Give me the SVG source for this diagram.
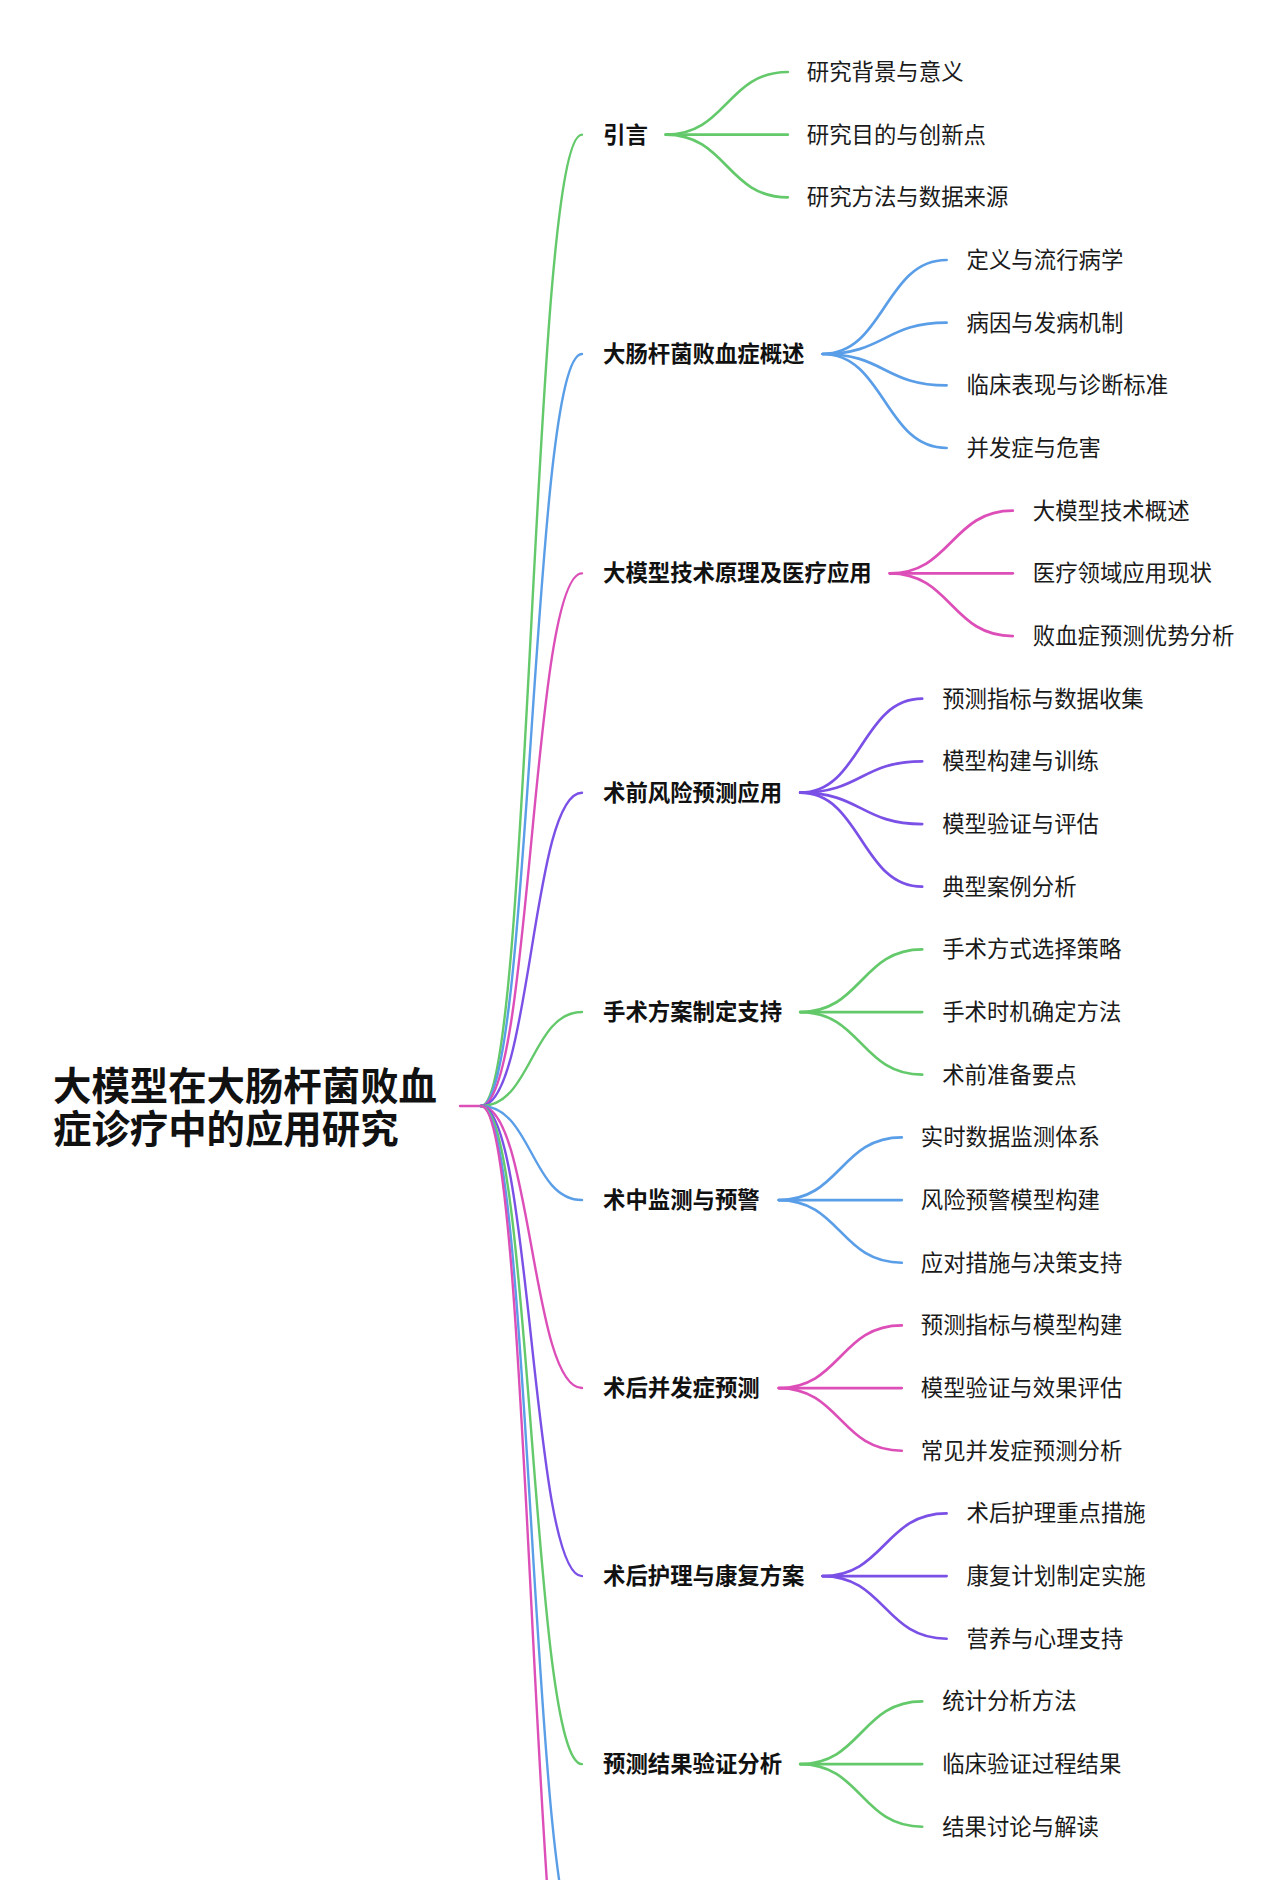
<svg xmlns="http://www.w3.org/2000/svg" width="1280" height="1880" viewBox="0 0 1280 1880">
<style>
  text { font-family: "Noto Sans CJK SC", "Noto Sans", sans-serif; fill: #1a1a1a; dominant-baseline: central; }
  .root { font-size: 38.4px; font-weight: bold; fill: #111; }
  .l1 { font-size: 22.4px; font-weight: bold; fill: #111; }
  .l2 { font-size: 22.4px; font-weight: normal; }
  path { fill: none; stroke-linecap: round; }
  .lk0 { stroke-width: 2.4; }
  .lk1 { stroke-width: 2.7; }
  .g { stroke: #63c96a; }
  .b { stroke: #5a9ee8; }
  .p { stroke: #dd4fb8; }
  .v { stroke: #7a50e6; }
</style>
<rect width="1280" height="1880" fill="#ffffff"/>

<g id="connectors">
  <path class="lk0 p" d="M460 1106 H481"/>
  <path class="lk0 g" d="M481 1106 C531.5 1106 531.5 134.67 582 134.67"/>
  <path class="lk0 b" d="M481 1106 C531.5 1106 531.5 354 582 354"/>
  <path class="lk0 p" d="M481 1106 C531.5 1106 531.5 573.36 582 573.36"/>
  <path class="lk0 v" d="M481 1106 C531.5 1106 531.5 792.7 582 792.7"/>
  <path class="lk0 g" d="M481 1106 C531.5 1106 531.5 1012.05 582 1012.05"/>
  <path class="lk0 b" d="M481 1106 C531.5 1106 531.5 1200.06 582 1200.06"/>
  <path class="lk0 p" d="M481 1106 C531.5 1106 531.5 1388.07 582 1388.07"/>
  <path class="lk0 v" d="M481 1106 C531.5 1106 531.5 1576.08 582 1576.08"/>
  <path class="lk0 g" d="M481 1106 C531.5 1106 531.5 1764.09 582 1764.09"/>
  <path class="lk0 b" d="M481 1106 C531.5 1106 531.5 1952.1 582 1952.1"/>
  <path class="lk0 p" d="M481 1106 C531.5 1106 531.5 2108.8 582 2108.8"/>

  <path class="lk1 g" d="M665.8 134.67 C726.8 134.67 726.8 72 787.8 72"/>
  <path class="lk1 g" d="M665.8 134.67 H787.8"/>
  <path class="lk1 g" d="M665.8 134.67 C726.8 134.67 726.8 197.34 787.8 197.34"/>

  <path class="lk1 b" d="M822.6 354 C884.6 354 884.6 260.01 946.6 260.01"/>
  <path class="lk1 b" d="M822.6 354 C884.6 354 884.6 322.68 946.6 322.68"/>
  <path class="lk1 b" d="M822.6 354 C884.6 354 884.6 385.35 946.6 385.35"/>
  <path class="lk1 b" d="M822.6 354 C884.6 354 884.6 448.02 946.6 448.02"/>

  <path class="lk1 p" d="M889.8 573.36 C951.3 573.36 951.3 510.69 1012.8 510.69"/>
  <path class="lk1 p" d="M889.8 573.36 H1012.8"/>
  <path class="lk1 p" d="M889.8 573.36 C951.3 573.36 951.3 636.03 1012.8 636.03"/>

  <path class="lk1 v" d="M800.2 792.7 C861.2 792.7 861.2 698.7 922.2 698.7"/>
  <path class="lk1 v" d="M800.2 792.7 C861.2 792.7 861.2 761.37 922.2 761.37"/>
  <path class="lk1 v" d="M800.2 792.7 C861.2 792.7 861.2 824.04 922.2 824.04"/>
  <path class="lk1 v" d="M800.2 792.7 C861.2 792.7 861.2 886.71 922.2 886.71"/>

  <path class="lk1 g" d="M800.2 1012.05 C861.2 1012.05 861.2 949.38 922.2 949.38"/>
  <path class="lk1 g" d="M800.2 1012.05 H922.2"/>
  <path class="lk1 g" d="M800.2 1012.05 C861.2 1012.05 861.2 1074.72 922.2 1074.72"/>

  <path class="lk1 b" d="M778.8 1200.06 C840.3 1200.06 840.3 1137.39 901.8 1137.39"/>
  <path class="lk1 b" d="M778.8 1200.06 H901.8"/>
  <path class="lk1 b" d="M778.8 1200.06 C840.3 1200.06 840.3 1262.73 901.8 1262.73"/>

  <path class="lk1 p" d="M778.8 1388.07 C840.3 1388.07 840.3 1325.4 901.8 1325.4"/>
  <path class="lk1 p" d="M778.8 1388.07 H901.8"/>
  <path class="lk1 p" d="M778.8 1388.07 C840.3 1388.07 840.3 1450.74 901.8 1450.74"/>

  <path class="lk1 v" d="M822.6 1576.08 C884.6 1576.08 884.6 1513.41 946.6 1513.41"/>
  <path class="lk1 v" d="M822.6 1576.08 H946.6"/>
  <path class="lk1 v" d="M822.6 1576.08 C884.6 1576.08 884.6 1638.75 946.6 1638.75"/>

  <path class="lk1 g" d="M800.2 1764.09 C861.2 1764.09 861.2 1701.42 922.2 1701.42"/>
  <path class="lk1 g" d="M800.2 1764.09 H922.2"/>
  <path class="lk1 g" d="M800.2 1764.09 C861.2 1764.09 861.2 1826.76 922.2 1826.76"/>
</g>

<g id="root">
  <text class="root" x="53" y="1083"><tspan x="53" y="1083">大模型在大肠杆菌败血</tspan><tspan x="53" y="1126">症诊疗中的应用研究</tspan></text>
</g>

<g id="n1" transform="translate(0,-2)">
  <text class="l1" x="603" y="134.67">引言</text>
  <text class="l2" x="806.8" y="72">研究背景与意义</text>
  <text class="l2" x="806.8" y="134.67">研究目的与创新点</text>
  <text class="l2" x="806.8" y="197.34">研究方法与数据来源</text>
</g>
<g id="n2" transform="translate(0,-2)">
  <text class="l1" x="603" y="354">大肠杆菌败血症概述</text>
  <text class="l2" x="966.6" y="260.01">定义与流行病学</text>
  <text class="l2" x="966.6" y="322.68">病因与发病机制</text>
  <text class="l2" x="966.6" y="385.35">临床表现与诊断标准</text>
  <text class="l2" x="966.6" y="448.02">并发症与危害</text>
</g>
<g id="n3" transform="translate(0,-2)">
  <text class="l1" x="603" y="573.36">大模型技术原理及医疗应用</text>
  <text class="l2" x="1032.8" y="510.69">大模型技术概述</text>
  <text class="l2" x="1032.8" y="573.36">医疗领域应用现状</text>
  <text class="l2" x="1032.8" y="636.03">败血症预测优势分析</text>
</g>
<g id="n4" transform="translate(0,-2)">
  <text class="l1" x="603" y="792.7">术前风险预测应用</text>
  <text class="l2" x="942.2" y="698.7">预测指标与数据收集</text>
  <text class="l2" x="942.2" y="761.37">模型构建与训练</text>
  <text class="l2" x="942.2" y="824.04">模型验证与评估</text>
  <text class="l2" x="942.2" y="886.71">典型案例分析</text>
</g>
<g id="n5" transform="translate(0,-2)">
  <text class="l1" x="603" y="1012.05">手术方案制定支持</text>
  <text class="l2" x="942.2" y="949.38">手术方式选择策略</text>
  <text class="l2" x="942.2" y="1012.05">手术时机确定方法</text>
  <text class="l2" x="942.2" y="1074.72">术前准备要点</text>
</g>
<g id="n6" transform="translate(0,-2)">
  <text class="l1" x="603" y="1200.06">术中监测与预警</text>
  <text class="l2" x="920.8" y="1137.39">实时数据监测体系</text>
  <text class="l2" x="920.8" y="1200.06">风险预警模型构建</text>
  <text class="l2" x="920.8" y="1262.73">应对措施与决策支持</text>
</g>
<g id="n7" transform="translate(0,-2)">
  <text class="l1" x="603" y="1388.07">术后并发症预测</text>
  <text class="l2" x="920.8" y="1325.4">预测指标与模型构建</text>
  <text class="l2" x="920.8" y="1388.07">模型验证与效果评估</text>
  <text class="l2" x="920.8" y="1450.74">常见并发症预测分析</text>
</g>
<g id="n8" transform="translate(0,-2)">
  <text class="l1" x="603" y="1576.08">术后护理与康复方案</text>
  <text class="l2" x="966.6" y="1513.41">术后护理重点措施</text>
  <text class="l2" x="966.6" y="1576.08">康复计划制定实施</text>
  <text class="l2" x="966.6" y="1638.75">营养与心理支持</text>
</g>
<g id="n9" transform="translate(0,-2)">
  <text class="l1" x="603" y="1764.09">预测结果验证分析</text>
  <text class="l2" x="942.2" y="1701.42">统计分析方法</text>
  <text class="l2" x="942.2" y="1764.09">临床验证过程结果</text>
  <text class="l2" x="942.2" y="1826.76">结果讨论与解读</text>
</g>
</svg>
